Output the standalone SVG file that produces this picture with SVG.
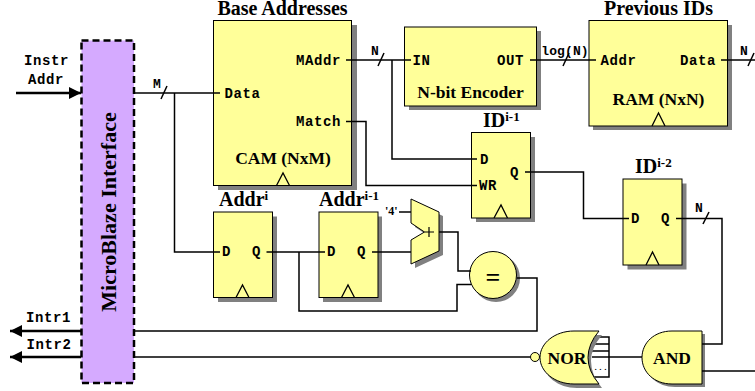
<svg xmlns="http://www.w3.org/2000/svg" width="755" height="391" viewBox="0 0 755 391">
<defs>
<style>
.box{fill:#ffff99;stroke:#000;stroke-width:1}
.sh{fill:#808080;stroke:none}
.w{fill:none;stroke:#000;stroke-width:1.5}
.a{fill:none;stroke:#000;stroke-width:2.5}
.b{font-family:"Liberation Serif",serif;font-weight:bold;fill:#000}
.t{font-family:"Liberation Mono",monospace;font-weight:bold;font-size:14px;letter-spacing:.6px;fill:#000}
.l{font-size:13px;letter-spacing:.1px}
.h{font-size:20px}
.n{font-size:17.500px}
.s{font-size:13px}
.clk{fill:none;stroke:#000;stroke-width:1.3}
</style>
<marker id="ah" markerUnits="userSpaceOnUse" markerWidth="12" markerHeight="12" refX="12" refY="6" orient="auto"><path d="M0 0L12 6L0 12Z" fill="#000"/></marker>
</defs>
<rect width="755" height="391" fill="#fff"/>
<g id="mb"><rect x="81.500" y="40.500" width="52.500" height="342.500" fill="#d5aaff" stroke="#000" stroke-width="2.500" stroke-dasharray="7 4"/>
<text class="b" transform="translate(116 212) rotate(-90)" text-anchor="middle" font-size="22">MicroBlaze Interface</text></g>
<g id="cam"><rect class="sh" x="218" y="25" width="139" height="165"/><rect class="box" x="213.500" y="20.500" width="138" height="165"/><path class="clk" d="M276.500 185.500L283 173L289.500 185.500"/>
<text class="b h" x="282.500" y="15" text-anchor="middle">Base Addresses</text><text class="b n" x="283" y="164" text-anchor="middle">CAM (NxM)</text>
<text class="t" x="224.500" y="98">Data</text><text class="t" x="296" y="65">MAddr</text><text class="t" x="296" y="126">Match</text></g>
<g id="encoder"><rect class="sh" x="409" y="31" width="132" height="79"/><rect class="box" x="404.500" y="27" width="132" height="79"/>
<text class="b n" x="470.500" y="98" text-anchor="middle">N-bit Encoder</text><text class="t" x="412.500" y="65">IN</text><text class="t" x="497" y="65">OUT</text></g>
<g id="ram"><rect class="sh" x="593" y="25" width="139" height="105"/><rect class="box" x="589" y="20.500" width="138.500" height="105.500"/><path class="clk" d="M652 126L658.500 113L665 126"/>
<text class="b h" x="658.500" y="15" text-anchor="middle">Previous IDs</text><text class="b n" x="658.500" y="105" text-anchor="middle">RAM (NxN)</text>
<text class="t" x="600.500" y="65">Addr</text><text class="t" x="680" y="65">Data</text></g>
<g id="idi1"><rect class="sh" x="476" y="137" width="59" height="85"/><rect class="box" x="471.500" y="132.500" width="59" height="85.500"/><path class="clk" d="M494 218L501 205L507.500 218"/>
<text class="b h" x="483" y="127">ID<tspan class="s" dy="-6">i-1</tspan></text><text class="t" x="480" y="164">D</text><text class="t" x="479" y="190">WR</text><text class="t" x="510" y="177">Q</text></g>
<g id="idi2"><rect class="sh" x="627.500" y="183.500" width="59" height="86"/><rect class="box" x="623" y="179" width="59" height="86"/><path class="clk" d="M646 265L652.500 252L659 265"/>
<text class="b h" x="635" y="173">ID<tspan class="s" dy="-6">i-2</tspan></text><text class="t" x="631" y="223">D</text><text class="t" x="661" y="223">Q</text></g>
<g id="addri"><rect class="sh" x="218" y="216.500" width="59" height="85.500"/><rect class="box" x="213.500" y="212" width="59" height="85.500"/><path class="clk" d="M236 297.500L242.500 285L249 297.500"/>
<text class="b h" x="219" y="206">Addr<tspan class="s" dy="-6">i</tspan></text><text class="t" x="222" y="256">D</text><text class="t" x="252" y="256">Q</text></g>
<g id="addri1"><rect class="sh" x="323" y="216.500" width="59" height="85.500"/><rect class="box" x="319" y="212" width="59" height="85.500"/><path class="clk" d="M341.500 297.500L348 285L354.500 297.500"/>
<text class="b h" x="319" y="206">Addr<tspan class="s" dy="-6">i-1</tspan></text><text class="t" x="327" y="256">D</text><text class="t" x="357" y="256">Q</text></g>
<g id="adder"><path class="sh" d="M415 203L443 216V255L415 268V244L428.500 236L415 227Z"/><path class="box" d="M411 199L439 212V251L411 264V240L424.500 232L411 223Z"/>
<path d="M424.500 232H434M429 227V237" fill="none" stroke="#000" stroke-width="1.200"/>
<text class="b" x="385" y="215" font-size="12">'4'</text></g>
<g id="eq"><circle class="sh" cx="496" cy="278" r="24"/><circle class="box" cx="493" cy="275" r="23.500"/><text x="493" y="286" text-anchor="middle" font-size="26" font-family="Liberation Serif,serif" font-weight="bold">=</text></g>
<g id="nor">
<path class="w" d="M585 337H609V377H585M585 344H609M585 351H609"/>
<path class="sh" d="M577 335H602Q591 348 591 361Q591 375 602 388H577C558 388 543 376 543 361C543 347 558 335 577 335Z"/>
<path class="box" d="M574 331H599Q588 344 588 357.500Q588 371 599 384H574C555 384 540 372 540 357.500C540 343 555 331 574 331Z"/>
<circle class="box" cx="535" cy="357" r="4.500"/><text class="b" x="567" y="364" text-anchor="middle" font-size="17.500">NOR</text>
<text x="600.500" y="370" text-anchor="middle" font-size="8" font-family="Liberation Mono,monospace" font-weight="bold">...</text></g>
<g id="and"><path class="sh" d="M675 334H705V387H675C657 387 645 375 645 361C645 347 657 334 675 334Z"/>
<path class="box" d="M672 331H702V384H672C654 384 642 372 642 357.500C642 343 654 331 672 331Z"/><text class="b" x="672" y="364" text-anchor="middle" font-size="17.500">AND</text></g>
<g id="connectors">
<path class="a" d="M16 93H81" marker-end="url(#ah)"/>
<path class="a" d="M81 331H10" marker-end="url(#ah)"/>
<path class="a" d="M81 357H10" marker-end="url(#ah)"/>
<path class="w" d="M134 93H220"/><path class="w" d="M161 99L167 86"/>
<path class="w" d="M174.500 93V252H220"/>
<path class="w" d="M346 60H411"/><path class="w" d="M378 66L384 53"/>
<path class="w" d="M392 60V159H477"/>
<path class="w" d="M346 121.500H366V185.500H477"/>
<path class="w" d="M530 60H596"/><path class="w" d="M563 66L569 53"/>
<path class="w" d="M721 60H755"/><path class="w" d="M748 66L754 53"/>
<path class="w" d="M525 172H583.500V218.500H629"/>
<path class="w" d="M676 218.500H722V344H702"/><path class="w" d="M703 224L709 212"/>
<path class="w" d="M266.500 252H325"/>
<path class="w" d="M299 252V311H457V284.500H471"/>
<path class="w" d="M372 252H411"/>
<path class="w" d="M399 212H411"/>
<path class="w" d="M439 232H458V271H471"/>
<path class="w" d="M517 278H537V331H134"/>
<path class="w" d="M134 357H530"/>
<path class="w" d="M592 357H642"/>
<path class="w" d="M702 371H755"/>
</g>
<g id="labels">
<text class="t" x="46.500" y="65" text-anchor="middle">Instr</text><text class="t" x="46" y="84" text-anchor="middle">Addr</text>
<text class="t" x="48.500" y="322" text-anchor="middle">Intr1</text><text class="t" x="49" y="349" text-anchor="middle">Intr2</text>
<text class="t l" x="157" y="88" text-anchor="middle">M</text><text class="t l" x="375" y="55" text-anchor="middle">N</text>
<text class="t l" x="565" y="55" text-anchor="middle">log(N)</text><text class="t l" x="744" y="55" text-anchor="middle">N</text><text class="t l" x="699" y="212" text-anchor="middle">N</text>
</g>
</svg>
